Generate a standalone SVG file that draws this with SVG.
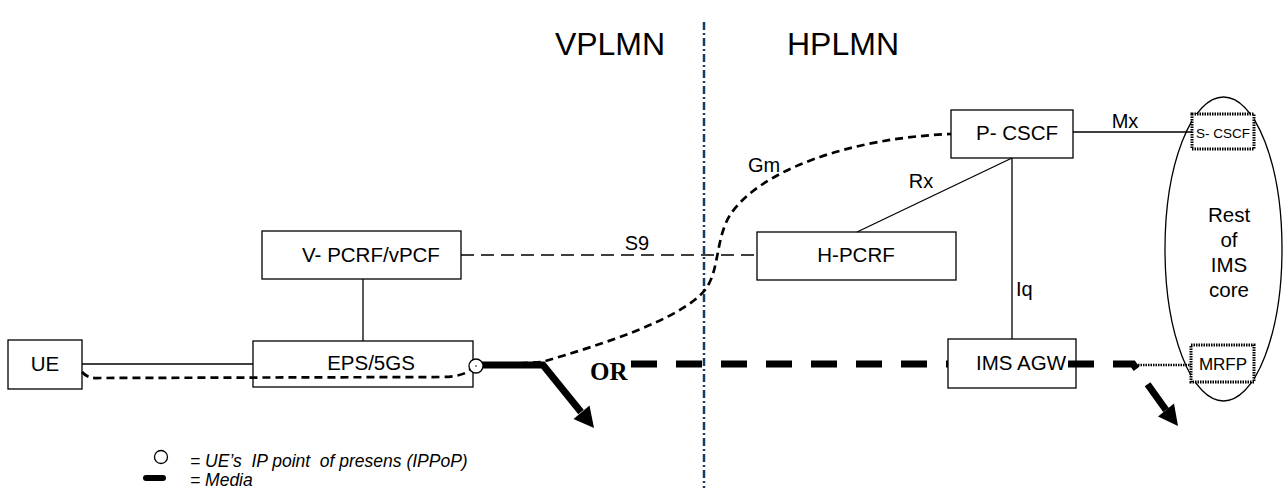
<svg xmlns="http://www.w3.org/2000/svg" width="1284" height="488" viewBox="0 0 1284 488">
<style>
text{font-family:"Liberation Sans",Arial,sans-serif;fill:#000}
.lbl{font-size:20.5px;text-anchor:middle}
.el{font-size:20px}
.box{fill:#fff;stroke:#000;stroke-width:1.3}
.dot{fill:#fff;stroke:#000;stroke-width:3;stroke-dasharray:1.5 1}
.ln{stroke:#000;stroke-width:1.3;fill:none}
.media{stroke:#000;stroke-width:7;fill:none}
.leg{font-size:17.5px;font-style:italic;white-space:pre}
</style>
<rect width="1284" height="488" fill="#fff"/>
<g id="plmn">
<line x1="704" y1="22" x2="704" y2="488" stroke="#163D62" stroke-width="2.5" stroke-dasharray="8 3 2 3"/>
<text x="610" y="55" font-size="32" text-anchor="middle">VPLMN</text>
<text x="843" y="55" font-size="32" text-anchor="middle">HPLMN</text>
</g>
<g id="ims-core">
<ellipse cx="1223.5" cy="249" rx="58.5" ry="152" fill="none" stroke="#000" stroke-width="1.3"/>
<text class="lbl" x="1229" y="222">Rest</text>
<text class="lbl" x="1229" y="247">of</text>
<text class="lbl" x="1229" y="272">IMS</text>
<text class="lbl" x="1229" y="297">core</text>
</g>
<g id="UE"><rect class="box" x="8" y="340" width="74" height="49"/><text class="lbl" x="45" y="371">UE</text></g>
<g id="EPS"><rect class="box" x="253" y="341" width="220" height="46"/><text class="lbl" x="371" y="370">EPS/5GS</text></g>
<g id="VPCRF"><rect class="box" x="262" y="231" width="199" height="48"/><text class="lbl" x="371" y="262">V- PCRF/vPCF</text></g>
<g id="HPCRF"><rect class="box" x="757" y="232" width="199" height="48"/><text class="lbl" x="856" y="262">H-PCRF</text></g>
<g id="PCSCF"><rect class="box" x="951" y="110" width="122" height="48"/><text class="lbl" x="1017" y="140">P- CSCF</text></g>
<g id="IMSAGW"><rect class="box" x="948" y="339" width="128" height="49"/><text class="lbl" x="1021" y="370">IMS AGW</text></g>
<g id="SCSCF"><rect class="dot" x="1192" y="114" width="62" height="35"/><text x="1223" y="138" font-size="13.5" text-anchor="middle">S- CSCF</text></g>
<g id="MRFP"><rect class="dot" x="1191" y="345" width="63" height="37"/><text x="1223" y="370" font-size="17" text-anchor="middle">MRFP</text></g>
<g id="connectors">
<line class="ln" x1="82" y1="364" x2="253" y2="364"/>
<line class="ln" x1="363" y1="279" x2="363" y2="341"/>
<line class="ln" x1="461" y1="255" x2="757" y2="255" stroke-dasharray="13 7"/>
<line class="ln" x1="857" y1="232" x2="1012" y2="158"/>
<line class="ln" x1="1012" y1="158" x2="1012" y2="339"/>
<line class="ln" x1="1073" y1="132" x2="1192" y2="132"/>
<line x1="1133" y1="365" x2="1191" y2="365" stroke="#000" stroke-width="2.5" stroke-dasharray="1.5 1"/>
<path d="M82,372 Q88,379 100,378 L440,377 Q462,377 470,370 L476,366 L542,362 C600,345 680,320 705,290 C720,270 715,240 730,215 C760,170 850,138 951,134" fill="none" stroke="#000" stroke-width="2.7" stroke-dasharray="8 5"/>
<text class="el" x="637" y="250" text-anchor="middle">S9</text>
<text class="el" x="764" y="172" text-anchor="middle">Gm</text>
<text class="el" x="921" y="188" text-anchor="middle">Rx</text>
<text class="el" x="1125" y="128" text-anchor="middle">Mx</text>
<text class="el" x="1016" y="296">Iq</text>
</g>
<g id="media">
<path class="media" d="M476,365 H543 L581,412"/>
<polygon points="594,428 573.5,419 589.5,405.5"/>
<line class="media" x1="631" y1="364" x2="948" y2="364" stroke-dasharray="26 19"/>
<path class="media" d="M1068,364 H1133 L1166,410" stroke-dasharray="26 19 26 19 32"/>
<polygon points="1178,426 1158,416.5 1174,403.5"/>
<text x="590" y="380" font-weight="bold" font-size="25" style="font-family:'Liberation Serif',serif">OR</text>
</g>
<g id="ippop">
<circle cx="476" cy="366" r="7" fill="#fff" stroke="#000" stroke-width="1.3"/>
<circle cx="476" cy="366" r="0.8" fill="#000"/>
</g>
<g id="legend">
<circle cx="161" cy="457" r="6.5" fill="#fff" stroke="#000" stroke-width="1.3"/>
<text class="leg" x="190" y="467">= UE’s  IP point  of presens (IPPoP)</text>
<line x1="146" y1="478" x2="163" y2="478" stroke="#000" stroke-width="6" stroke-linecap="round"/>
<text class="leg" x="190" y="486">= Media</text>
</g>
</svg>
